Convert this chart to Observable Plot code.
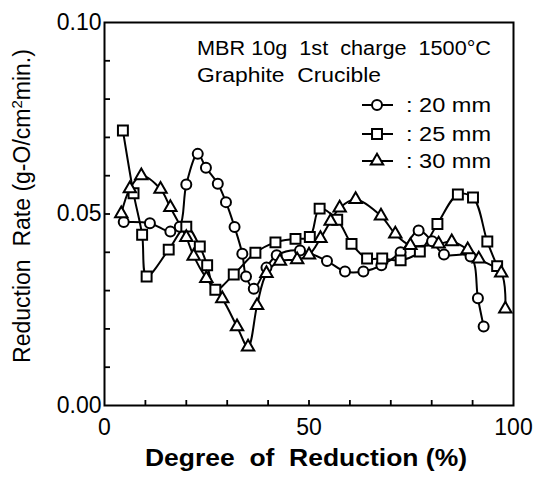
<!DOCTYPE html>
<html>
<head>
<meta charset="utf-8">
<script src="https://cdn.jsdelivr.net/npm/d3@7"></script>
<script src="https://cdn.jsdelivr.net/npm/@observablehq/plot@0.6"></script>
<style>
  html, body { margin: 0; padding: 0; background: #fff; }
  #chart { width: 534px; height: 477px; }
</style>
</head>
<body>
<div id="chart"></div>
<script>
// ---- data ----
const series = ["20 mm", "25 mm", "30 mm"];
const symbols = ["circle", "square", "triangle"];

const x20 = [4.7, 11.1, 16.1, 18.4, 20.0, 22.8, 24.8, 27.7, 29.7, 31.8, 33.7, 34.6, 36.5, 39.6, 42.1, 47.8, 54.4, 58.8, 63.3, 67.7, 72.4, 76.8, 80.1, 83.0, 89.5, 91.3, 92.7];
const y20 = [0.0479, 0.0476, 0.0454, 0.0467, 0.0577, 0.0657, 0.0621, 0.0579, 0.0531, 0.0466, 0.0396, 0.0337, 0.0305, 0.0360, 0.0392, 0.0405, 0.0377, 0.0350, 0.0350, 0.0366, 0.0400, 0.0457, 0.0429, 0.0394, 0.0389, 0.0280, 0.0206];

const x25 = [4.5, 7.1, 9.2, 10.3, 15.7, 20.0, 23.3, 25.1, 27.1, 31.6, 36.9, 41.8, 46.7, 50.2, 52.6, 56.9, 60.4, 64.2, 67.9, 72.4, 77.1, 81.4, 86.4, 90.1, 93.6, 96.0];
const y25 = [0.0718, 0.0554, 0.0446, 0.0337, 0.0407, 0.0467, 0.0415, 0.0366, 0.0302, 0.0342, 0.0399, 0.0426, 0.0435, 0.0440, 0.0514, 0.0485, 0.0422, 0.0384, 0.0384, 0.0379, 0.0402, 0.0474, 0.0551, 0.0543, 0.0428, 0.0364];

const x30 = [4.1, 6.2, 9.0, 13.7, 16.1, 20.0, 21.8, 24.9, 28.8, 32.4, 35.1, 37.3, 39.6, 42.9, 47.1, 50.0, 52.8, 55.3, 57.5, 61.4, 67.6, 71.1, 74.8, 81.7, 84.9, 88.8, 91.5, 97.0, 98.0];
const y30 = [0.0501, 0.0566, 0.0600, 0.0565, 0.0517, 0.0439, 0.0390, 0.0332, 0.0279, 0.0206, 0.0153, 0.0261, 0.0345, 0.0377, 0.0381, 0.0393, 0.0436, 0.0481, 0.0516, 0.0538, 0.0495, 0.0448, 0.0418, 0.0422, 0.0428, 0.0407, 0.0383, 0.0346, 0.0252];

const xMajorTicks = [0, 50, 100];
const xMinorTicks = [10, 20, 30, 40, 50, 60, 70, 80, 90];
const yMajorTicks = [0, 0.05, 0.10];
const yMinorTicks = [0.01, 0.02, 0.03, 0.04, 0.05, 0.06, 0.07, 0.08, 0.09];

const titleLines = ["MBR 10g  1st  charge  1500°C", "Graphite  Crucible"];
const xLabel = "Degree  of  Reduction (%)";
const yLabelParts = ["Reduction  Rate (g-O/cm", "2", "min.)"];

// ---- build table ----
const rows = [];
[[x20, y20], [x25, y25], [x30, y30]].forEach(([xs, ys], i) => {
  xs.forEach((x, j) => rows.push({series: series[i], x, y: ys[j]}));
});

const radius = {"20 mm": 5, "25 mm": 5.6, "30 mm": 4.6};
const FONT = "'Liberation Sans', Arial, sans-serif";

const plot = Plot.plot({
  width: 534,
  height: 477,
  marginLeft: 104,
  marginRight: 21,
  marginTop: 22,
  marginBottom: 72,
  style: {fontFamily: FONT, fontSize: "23px", color: "#000", background: "#fff", overflow: "visible"},
  x: {domain: [0, 100]},
  y: {domain: [0, 0.1]},
  symbol: {domain: series, range: symbols},
  marks: [
    Plot.axisY(yMinorTicks, {tickSize: 6, dx: 6, tickFormat: () => "", label: null, strokeWidth: 1.8}),
    Plot.axisX(xMinorTicks, {tickSize: 5, dy: -5, tickFormat: () => "", label: null, strokeWidth: 1.8}),
    Plot.axisY(yMajorTicks, {tickSize: 0, tickPadding: 3, tickFormat: d => d.toFixed(2), label: null, fontSize: 23}),
    Plot.axisX(xMajorTicks, {tickSize: 0, tickPadding: 13, tickFormat: d => String(d), label: null, fontSize: 23}),
    Plot.line(rows, {x: "x", y: "y", z: "series", stroke: "#000", strokeWidth: 2, curve: "catmull-rom"}),
    ...series.map(s => Plot.dot(rows.filter(d => d.series === s), {
      x: "x", y: "y", symbol: "series", r: radius[s], fill: "#fff", stroke: "#000", strokeWidth: 2
    })),
    Plot.frame({stroke: "#000", strokeWidth: 2})
  ]
});

document.getElementById("chart").appendChild(plot);

// ---- annotations (text, legend, axis titles) ----
const svg = d3.select(plot);

svg.append("text")
  .attr("x", 197).attr("y", 55)
  .attr("text-anchor", "start")
  .attr("font-family", FONT).attr("font-size", 20)
  .attr("textLength", 294).attr("lengthAdjust", "spacingAndGlyphs")
  .text(titleLines[0]);
svg.append("text")
  .attr("x", 197).attr("y", 82)
  .attr("text-anchor", "start")
  .attr("font-family", FONT).attr("font-size", 20)
  .attr("textLength", 184).attr("lengthAdjust", "spacingAndGlyphs")
  .text(titleLines[1]);

const legendY = [105, 134, 161];
series.forEach((s, i) => {
  const g = svg.append("g");
  g.append("line")
    .attr("x1", 362).attr("x2", 393)
    .attr("y1", legendY[i]).attr("y2", legendY[i])
    .attr("stroke", "#000").attr("stroke-width", 2);
  const symType = {circle: d3.symbolCircle, square: d3.symbolSquare, triangle: d3.symbolTriangle}[symbols[i]];
  g.append("path")
    .attr("transform", `translate(377,${legendY[i]})`)
    .attr("d", d3.symbol(symType, Math.PI * radius[s] * radius[s])())
    .attr("fill", "#fff").attr("stroke", "#000").attr("stroke-width", 2);
  g.append("text")
    .attr("x", 406).attr("y", legendY[i] + 7)
    .attr("text-anchor", "start")
    .attr("font-family", FONT).attr("font-size", 20)
    .attr("textLength", 85).attr("lengthAdjust", "spacingAndGlyphs")
    .text(": " + s);
});

svg.append("text")
  .attr("x", 306).attr("y", 466)
  .attr("text-anchor", "middle")
  .attr("font-family", FONT).attr("font-size", 23).attr("font-weight", "bold")
  .attr("textLength", 322).attr("lengthAdjust", "spacingAndGlyphs")
  .text(xLabel);

const yl = svg.append("text")
  .attr("transform", "translate(30,206) rotate(-90)")
  .attr("text-anchor", "middle")
  .attr("font-family", FONT).attr("font-size", 23);
yl.append("tspan").text(yLabelParts[0]);
yl.append("tspan").attr("dy", -8).attr("font-size", 15).text(yLabelParts[1]);
yl.append("tspan").attr("dy", 8).text(yLabelParts[2]);
</script>
</body>
</html>
